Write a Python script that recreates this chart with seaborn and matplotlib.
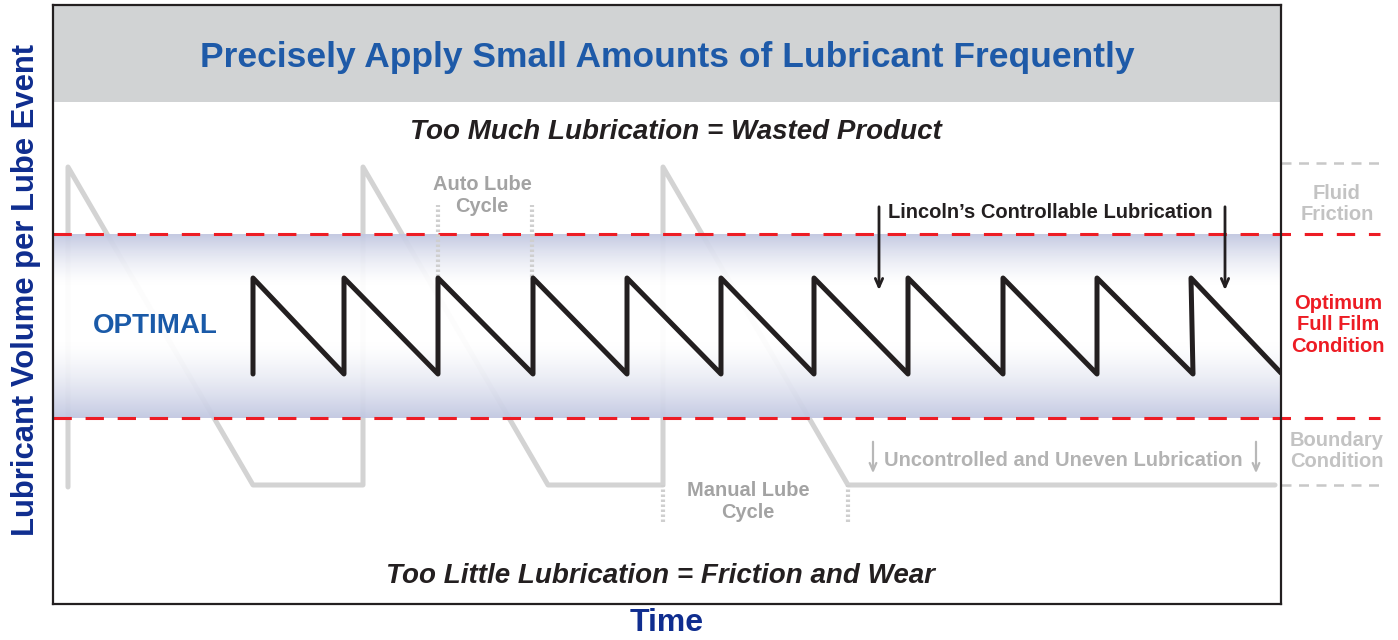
import numpy as np
import pandas as pd
import seaborn as sns
import matplotlib.pyplot as plt
from matplotlib.colors import LinearSegmentedColormap

# chart units: time 0..1228, lube volume 0..599
time_lim = 1228
vol_lim = 599

# controlled (Lincoln) lube events: sawtooth
ctrl_time = [200, 200, 291, 291, 385, 385, 480, 480, 574, 574, 668, 668,
             761, 761, 855, 855, 950, 950, 1044, 1044, 1140, 1138, 1228]
ctrl_vol = [230, 326, 230, 326, 230, 326, 230, 326, 230, 326, 230, 326,
            230, 326, 230, 326, 230, 326, 230, 326, 230, 326, 231]

# uncontrolled manual lube path
man_time = [15, 15, 200, 310, 310, 495, 610, 610, 795, 1222]
man_vol = [117, 437, 119, 119, 437, 119, 119, 437, 119, 119]

# optimal band + reference levels
band_lo, band_hi = 186, 370
fluid_level, boundary_level = 441, 119
title_base = 502

auto_cycle = [385, 479]
manual_cycle = [610, 795]
ctrl_arrows = [826, 1172]
unc_arrows = [820, 1203]

ctrl = pd.DataFrame({"time": ctrl_time, "volume": ctrl_vol})
man = pd.DataFrame({"time": man_time, "volume": man_vol})

sns.set_theme(style="white")
plt.rcParams['font.family'] = ['Liberation Sans', 'DejaVu Sans']

fig = plt.figure(figsize=(13.98, 6.40), dpi=100)
ax = fig.add_axes([53/1398, 36/640, 1228/1398, 599/640])
ax.set_xlim(0, time_lim)
ax.set_ylim(0, vol_lim)

# title band
ax.axhspan(title_base, vol_lim, color='#d1d3d4', zorder=0, lw=0)

# gray manual path
sns.lineplot(data=man, x="time", y="volume", sort=False, estimator=None,
             color='#d3d3d3', lw=3.6, ax=ax, zorder=1,
             solid_capstyle='round', solid_joinstyle='round')

# optimal band gradient
t = np.linspace(0, 1, 200)
prof = np.clip(np.maximum((0.42 - t) / 0.42, (t - 0.72) / 0.28), 0, 1) ** 1.5
cmap = LinearSegmentedColormap.from_list('band', ['#ffffff', '#c1c7e1'])
ax.imshow(prof[:, None], extent=[0, time_lim, band_lo, band_hi], aspect='auto',
          cmap=cmap, vmin=0, vmax=1, origin='lower', zorder=2, alpha=0.94)

# red dashed limits
for lv in [band_lo, band_hi]:
    ax.plot([0, 1327], [lv, lv], color='#ed1c24', lw=2.2, ls=(0, (6, 4.5)),
            zorder=3, clip_on=False)
for lv in [fluid_level, boundary_level]:
    ax.plot([time_lim, 1327], [lv, lv], color='#c8c8c8', lw=1.8, ls=(0, (4, 3)),
            zorder=3, clip_on=False)

# controlled sawtooth
sns.lineplot(data=ctrl, x="time", y="volume", sort=False, estimator=None,
             color='#231f20', lw=3.6, ax=ax, zorder=4,
             solid_capstyle='round', solid_joinstyle='round')

# cycle markers
for x in auto_cycle:
    ax.plot([x, x], [327, 399], color='#cfcfcf', lw=3, ls=(0, (0.6, 0.6)), zorder=3)
for x in manual_cycle:
    ax.plot([x, x], [82, 119], color='#cfcfcf', lw=3, ls=(0, (0.6, 0.6)), zorder=3)

# arrows
for x in ctrl_arrows:
    ax.annotate('', xy=(x, 311), xytext=(x, 400),
                arrowprops=dict(arrowstyle='->,head_length=0.5,head_width=0.22',
                                color='#231f20', lw=2), zorder=5)
for x in unc_arrows:
    ax.annotate('', xy=(x, 128), xytext=(x, 165),
                arrowprops=dict(arrowstyle='->,head_length=0.45,head_width=0.2',
                                color='#b8b8b8', lw=1.6), zorder=5)

# texts
ax.text(614, 547, 'Precisely Apply Small Amounts of Lubricant Frequently',
        ha='center', va='center', fontsize=25.5, fontweight='bold', color='#1e5aa8')
ax.text(623, 472, 'Too Much Lubrication = Wasted Product', ha='center', va='center',
        fontsize=20, fontweight='bold', style='italic', color='#231f20')
ax.text(607, 28, 'Too Little Lubrication = Friction and Wear', ha='center', va='center',
        fontsize=20, fontweight='bold', style='italic', color='#231f20')
ax.text(40, 278, 'OPTIMAL', ha='left', va='center', fontsize=20, fontweight='bold',
        color='#1a5aa8', zorder=6)
ax.text(429, 408, 'Auto Lube\nCycle', ha='center', va='center', fontsize=14.4,
        fontweight='bold', color='#a3a3a3', linespacing=1.2)
ax.text(695, 103, 'Manual Lube\nCycle', ha='center', va='center', fontsize=14.4,
        fontweight='bold', color='#a3a3a3', linespacing=1.2)
ax.text(835, 392, 'Lincoln\u2019s Controllable Lubrication', ha='left', va='center',
        fontsize=14.5, fontweight='bold', color='#231f20')
ax.text(831, 144, 'Uncontrolled and Uneven Lubrication', ha='left', va='center',
        fontsize=14.5, fontweight='bold', color='#b3b3b3')
ax.text(1284, 400, 'Fluid\nFriction', ha='center', va='center', fontsize=14.5,
        fontweight='bold', color='#c3c3c3', linespacing=1.15, clip_on=False)
ax.text(1285, 279, 'Optimum\nFull Film\nCondition', ha='center', va='center',
        fontsize=14.5, fontweight='bold', color='#ed1c24', linespacing=1.15, clip_on=False)
ax.text(1284, 153, 'Boundary\nCondition', ha='center', va='center', fontsize=14.5,
        fontweight='bold', color='#c3c3c3', linespacing=1.15, clip_on=False)

ax.set_xlabel('Time', fontsize=23, fontweight='bold', color='#0f2d8f', labelpad=3)
ax.set_ylabel('Lubricant Volume per Lube Event', fontsize=22.3, fontweight='bold',
              color='#0f2d8f')
ax.yaxis.set_label_coords(-0.0095, 0.524)
ax.set_xticks([])
ax.set_yticks([])
for s in ax.spines.values():
    s.set_color('#231f20')
    s.set_linewidth(1.6)
    s.set_zorder(7)

fig.savefig('out.png', dpi=100)
